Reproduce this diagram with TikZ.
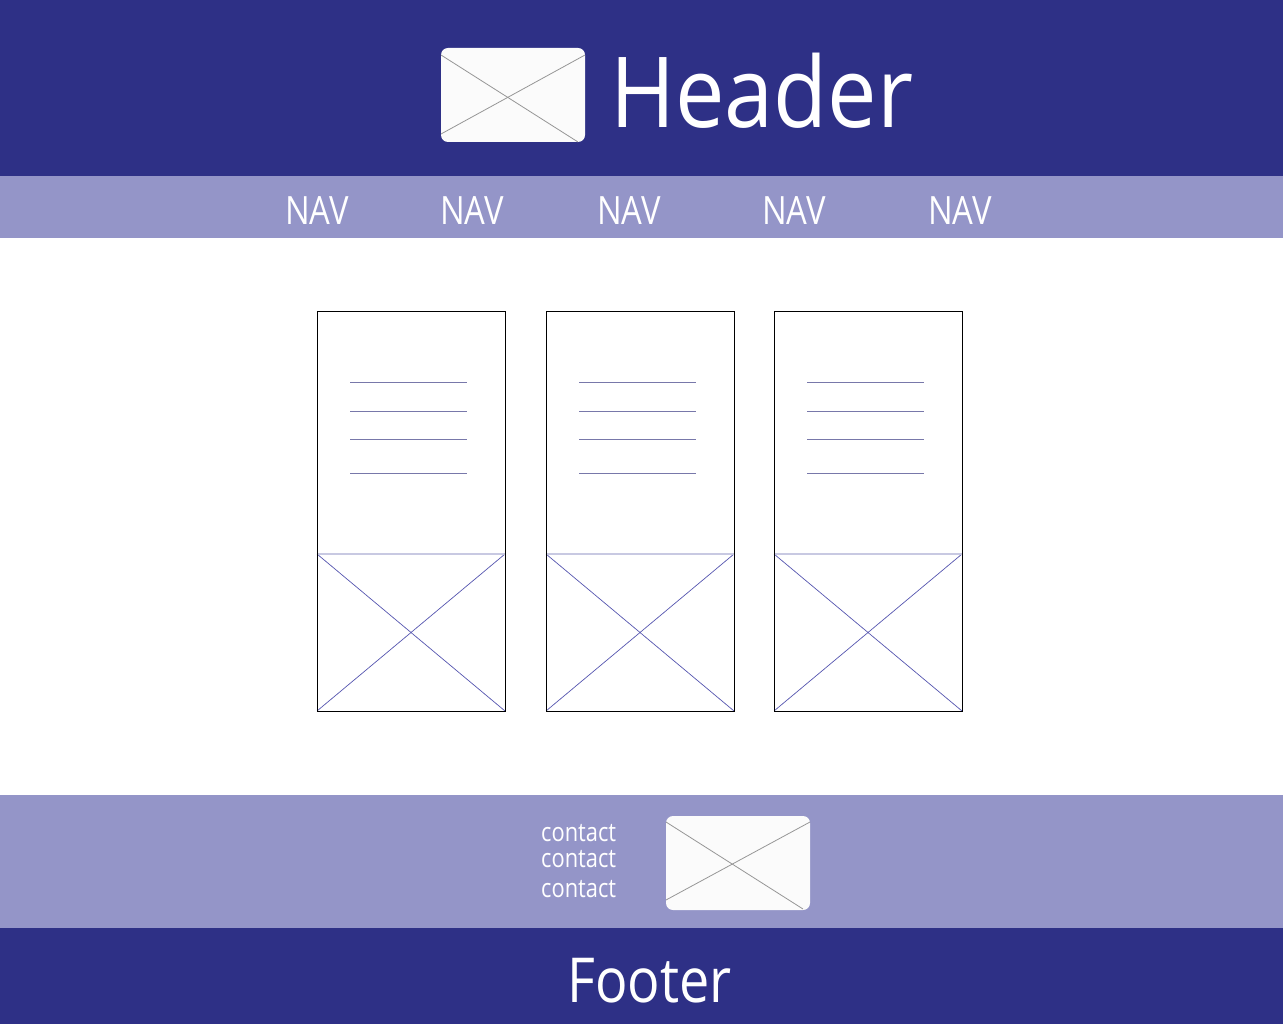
\documentclass[tikz,border=0pt]{standalone}
\usepackage{fontspec}
\setmainfont{Open Sans}
\definecolor{banddark}{RGB}{46,48,134}
\definecolor{bandlight}{RGB}{148,149,200}
\definecolor{logofill}{RGB}{251,251,251}
\definecolor{logoline}{RGB}{150,150,150}
\definecolor{textline}{RGB}{120,120,170}
\definecolor{crossline}{RGB}{85,85,175}
\definecolor{divider}{RGB}{200,201,226}
\tikzset{
  band/.style={draw=none},
  logobox/.style={fill=logofill, draw=none, rounded corners=7pt},
  logocross/.style={draw=logoline, line width=0.8pt},
  cardbox/.style={draw=black, line width=1pt},
  textrule/.style={draw=textline, line width=1pt},
  imgcross/.style={draw=crossline, line width=0.7pt},
  imgtop/.style={draw=divider, line width=1.8pt},
  label/.style={text=white, inner sep=0pt},
}
\begin{document}
\begin{tikzpicture}[x=1pt,y=-1pt]
\useasboundingbox (0,0) rectangle (1283,1024);

% bands
\fill[banddark] (0,0) rectangle (1283,176);
\fill[bandlight] (0,176) rectangle (1283,238);
\fill[bandlight] (0,795) rectangle (1283,928);
\fill[banddark] (0,928) rectangle (1283,1024);

% header logo placeholder
\fill[logobox] (441,48) rectangle (585,142);
\draw[logocross] (441,55) -- (578,142);
\draw[logocross] (585,55) -- (441,134);
\node[label, anchor=base west, font=\fontsize{98pt}{98pt}\selectfont] (header) at (610,128) {\scalebox{0.9}[1]{Header}};

% navigation
\foreach \cx [count=\i] in {317,472,629,794,960}
  \node[label, anchor=base, font=\fontsize{39pt}{39pt}\selectfont] (nav\i) at (\cx,225) {\scalebox{0.84}[1]{NAV}};

% content cards
\foreach \lx [count=\i] in {317,546,774} {
  \coordinate (card\i-nw) at (\lx,312);
  \coordinate (card\i-se) at (\lx+188,711);
  \foreach \ry in {383,411,439,473}
    \draw[textrule] (\lx+33,\ry) -- (\lx+150,\ry);
  \draw[imgcross] (\lx,554) -- (\lx+188,711);
  \draw[imgcross] (\lx+188,554) -- (\lx,711);
  \draw[imgtop] (\lx,554) -- (\lx+188,554);
  \draw[cardbox] (card\i-nw) rectangle (card\i-se);
}

% contact area
\foreach \by [count=\i] in {841,867,897}
  \node[label, anchor=base west, font=\fontsize{26pt}{26pt}\selectfont] (contact\i) at (541,\by) {\scalebox{0.84}[1]{contact}};

\fill[logobox] (666,816) rectangle (810,910);
\draw[logocross] (666,822) -- (803,909);
\draw[logocross] (810,822) -- (666,900);

% footer
\node[label, anchor=base west, font=\fontsize{62pt}{62pt}\selectfont] (footer) at (567,1002) {\scalebox{0.87}[1]{Footer}};
\end{tikzpicture}
\end{document}
